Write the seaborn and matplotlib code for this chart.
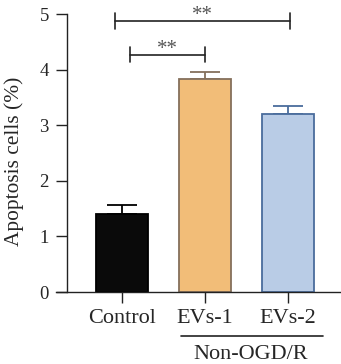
import matplotlib
matplotlib.use("Agg")
import matplotlib.pyplot as plt
import matplotlib.transforms as mtransforms
import numpy as np
import pandas as pd
import seaborn as sns

groups = ["Control", "EVs-1", "EVs-2"]
values = [1.41, 3.83, 3.21]
errors = [0.16, 0.13, 0.14]
fills = ["#0a0a0a", "#f2bd78", "#b9cce6"]
edges = ["#000000", "#85705c", "#4a6c9c"]
# significance brackets: (x start, x end, height, label)
brackets = [(0.1, 1.0, 4.27, "**"), (-0.08, 2.02, 4.88, "**")]
group_label = "Non-OGD/R"

sns.set_theme(style="ticks")
plt.rcParams["font.family"] = ["Liberation Serif", "DejaVu Serif"]

df = pd.DataFrame({"group": groups, "value": values})

fig = plt.figure(figsize=(3.41, 3.64), dpi=100)
ax = fig.add_axes([0.1642, 0.1978, 0.8358, 0.794])

sns.barplot(data=df, x="group", y="value", hue="group", palette=fills,
            saturation=1, legend=False, width=0.63, errorbar=None, ax=ax,
            zorder=2)
for patch, ec in zip(ax.patches, edges):
    patch.set_edgecolor(ec)
    patch.set_linewidth(1.3)

x = np.arange(len(groups))
for xi, v, e, ec in zip(x, values, errors, edges):
    ax.errorbar(xi, v, yerr=[[0], [e]], fmt="none", ecolor=ec,
                elinewidth=1.3, capsize=10.5, capthick=1.3, zorder=1)

for x0, x1, h, lab in brackets:
    ax.plot([x0, x1], [h, h], color="#222222", lw=1.2, clip_on=False)
    for xe in (x0, x1):
        ax.plot([xe, xe], [h - 0.14, h + 0.14], color="#222222", lw=1.2,
                clip_on=False)
    ax.text((x0 + x1) / 2, h + 0.02, lab, ha="center", va="baseline",
            fontsize=15, color="#555555")

ax.set_xlim(-0.795, 2.636)
ax.set_ylim(0, 5.2)
ax.set_yticks([0, 1, 2, 3, 4, 5])
ax.spines["left"].set_position(("data", -0.663))
ax.spines["left"].set_bounds(0, 5)
ax.spines["top"].set_visible(False)
ax.spines["right"].set_visible(False)
for s in ("left", "bottom"):
    ax.spines[s].set_linewidth(1.0)
    ax.spines[s].set_color("#222222")
ax.tick_params(axis="both", length=8, width=1.0, color="#222222")
ax.tick_params(axis="y", labelsize=13.5, pad=5)
ax.tick_params(axis="x", labelsize=16, pad=4)
ax.set_xlabel("")
ax.set_ylabel("Apoptosis cells (%)", fontsize=15.4)
ax.yaxis.set_label_coords(-0.113, 0.453)

trans = mtransforms.blended_transform_factory(ax.transData, ax.transAxes)
ax.plot([0.71, 2.42], [-0.152, -0.152], color="#222222", lw=1.2,
        transform=trans, clip_on=False)
ax.text(1.55, -0.215, group_label, ha="center", va="center", fontsize=16,
        transform=trans)

fig.savefig("out.png", dpi=100)
